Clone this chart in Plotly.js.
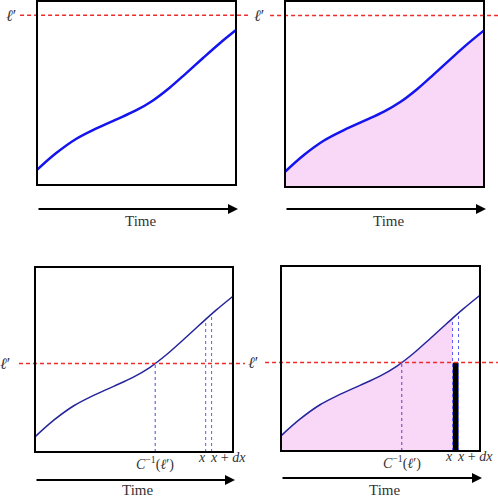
<!DOCTYPE html>
<html>
<head>
<meta charset="utf-8">
<script src="https://cdn.plot.ly/plotly-3.0.1.min.js"></script>
<style>
  html, body { margin: 0; padding: 0; background: #fff; }
  #chart { width: 498px; height: 497px; }
</style>
</head>
<body>
<div id="chart"></div>
<script>
// cumulative curve C(t) (box = 0..1 in both directions)
const timeT  = [0, 0.095, 0.196, 0.296, 0.397, 0.497, 0.581, 0.665, 0.749, 0.833, 0.916, 1];
const levelC = [0.082, 0.172, 0.250, 0.306, 0.355, 0.405, 0.458, 0.527, 0.607, 0.689, 0.768, 0.842];

// threshold l' per row
const levelTop = 0.922;
const levelBottom = 0.478;

// marked times on the lower panels
const cInvT = 0.607;
const xT = 0.862;
const xdxT = 0.892;

const W = 498, H = 497;
const font = "Liberation Serif, DejaVu Serif, serif";
const red = "#ee2a2a";
const pink = "#f9d7f7";

// linear lookup on the curve
const curveAt = t => {
  for (let i = 1; i < timeT.length; i++) {
    if (t <= timeT[i]) {
      const f = (t - timeT[i - 1]) / (timeT[i] - timeT[i - 1]);
      return levelC[i - 1] + f * (levelC[i] - levelC[i - 1]);
    }
  }
  return levelC[levelC.length - 1];
};

// panel boxes in pixels and the pixel area each axis pair covers
const panels = [
  { box: [37, 1, 199, 184],  area: [0, 249, 0, 248],   level: levelTop,    red: [-0.085, 1.06], lab: -0.13, arrowY: -0.13, timeY: -0.196 },
  { box: [285, 1, 199, 186], area: [249, 498, 0, 248], level: levelTop,    red: [-0.075, 1.08], lab: -0.13, arrowY: -0.118, timeY: -0.185 },
  { box: [35, 267, 198, 185], area: [0, 249, 248, 497], level: levelBottom, red: [-0.081, 1.06], lab: -0.15, arrowY: -0.151, timeY: -0.208 },
  { box: [281, 266, 199, 185], area: [249, 498, 248, 497], level: levelBottom, red: [-0.08, 1.09], lab: -0.14, arrowY: -0.146, timeY: -0.212 }
];

const traces = [];
const shapes = [];
const annotations = [];
const layout = {
  width: W, height: H,
  margin: { l: 0, r: 0, t: 0, b: 0 },
  paper_bgcolor: "#fff", plot_bgcolor: "rgba(0,0,0,0)",
  showlegend: false,
  font: { family: font, color: "#222" }
};

panels.forEach((p, i) => {
  const n = i === 0 ? "" : String(i + 1);
  const xa = "x" + n, ya = "y" + n;
  const [L, T, bw, bh] = p.box;
  const [ax0, ax1, ay0, ay1] = p.area;
  const hidden = { visible: false, showgrid: false, zeroline: false, fixedrange: true };
  layout["xaxis" + n] = Object.assign({}, hidden, {
    domain: [ax0 / W, ax1 / W],
    range: [(ax0 - L) / bw, (ax1 - L) / bw],
    anchor: ya
  });
  layout["yaxis" + n] = Object.assign({}, hidden, {
    domain: [1 - ay1 / H, 1 - ay0 / H],
    range: [(T + bh - ay1) / bh, (T + bh - ay0) / bh],
    anchor: xa
  });

  const bottom = i >= 2;
  const curveColor = bottom ? "#24249c" : "#1414ee";

  // shaded area under the curve
  if (i === 1) {
    traces.push({ x: timeT, y: levelC, xaxis: xa, yaxis: ya, mode: "lines",
      line: { shape: "spline", width: 0 }, fill: "tozeroy", fillcolor: pink, hoverinfo: "skip" });
  }
  if (i === 3) {
    const fx = timeT.filter(t => t < xT).concat([xT]);
    const fy = fx.map(curveAt);
    traces.push({ x: fx, y: fy, xaxis: xa, yaxis: ya, mode: "lines",
      line: { shape: "spline", width: 0 }, fill: "tozeroy", fillcolor: pink, hoverinfo: "skip" });
    // slice between x and x+dx up to l'
    traces.push({ type: "bar", x: [(xT + xdxT) / 2], y: [levelBottom], width: [xdxT - xT],
      xaxis: xa, yaxis: ya, marker: { color: "#000", line: { width: 0 } }, hoverinfo: "skip" });
  }

  // dotted markers on the lower panels
  if (bottom) {
    const dotColor = i === 3 ? "#5a3cc0" : "#4646e6";
    traces.push({ x: [cInvT, cInvT], y: [0, levelBottom], xaxis: xa, yaxis: ya, mode: "lines",
      line: { color: dotColor, width: 1, dash: "dot" }, hoverinfo: "skip" });
    [xT, xdxT].forEach(t => {
      traces.push({ x: [t, t], y: [0, curveAt(t)], xaxis: xa, yaxis: ya, mode: "lines",
        line: { color: "#5a5af5", width: 1, dash: "dot" }, hoverinfo: "skip" });
    });
    annotations.push({ xref: xa, yref: ya, x: cInvT, y: -0.062, showarrow: false,
      text: "<i>C</i><sup>−1</sup>(<i>ℓ</i>′)", font: { size: 14, family: font, color: "#333" } });
    annotations.push({ xref: xa, yref: ya, x: xT + 0.01, y: -0.032, xanchor: "right", showarrow: false,
      text: "<i>x</i>", font: { size: 14, family: font, color: "#333" } });
    annotations.push({ xref: xa, yref: ya, x: xT + 0.01, y: -0.032, xanchor: "left", showarrow: false,
      text: "<i>x</i> + <i>dx</i>", font: { size: 14, family: font, color: "#333" } });
  }

  // the curve
  traces.push({ x: timeT, y: levelC, xaxis: xa, yaxis: ya, mode: "lines",
    line: { shape: "spline", smoothing: 1, color: curveColor, width: bottom ? 1.5 : 2.5 }, hoverinfo: "skip" });

  // threshold l'
  traces.push({ x: p.red, y: [p.level, p.level], xaxis: xa, yaxis: ya, mode: "lines",
    line: { color: red, width: 1.5, dash: "4px,3px" }, hoverinfo: "skip" });
  annotations.push({ xref: xa, yref: ya, x: p.lab, y: p.level, showarrow: false,
    text: "<i>ℓ</i>′", font: { size: 16, family: font, color: "#333" } });

  // frame
  shapes.push({ type: "rect", xref: xa, yref: ya, x0: 0, x1: 1, y0: 0, y1: 1,
    line: { color: "#000", width: 2 }, layer: "above" });

  // time arrow and label
  annotations.push({ xref: xa, yref: ya, axref: xa, ayref: ya, x: 1.01, y: p.arrowY,
    ax: 0, ay: p.arrowY, showarrow: true, arrowhead: 2, arrowsize: 1, arrowwidth: 2,
    arrowcolor: "#000", text: "" });
  annotations.push({ xref: xa, yref: ya, x: 0.52, y: p.timeY, showarrow: false,
    text: "Time", font: { size: 15, family: font, color: "#333" } });
});

layout.shapes = shapes;
layout.annotations = annotations;

Plotly.newPlot("chart", traces, layout, { displayModeBar: false, staticPlot: true });
</script>
</body>
</html>
